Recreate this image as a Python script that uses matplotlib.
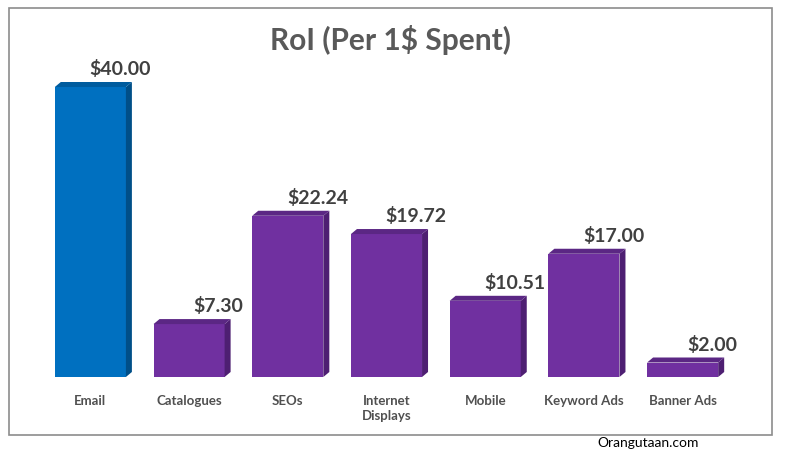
import matplotlib
matplotlib.use("Agg")
import matplotlib.pyplot as plt
from matplotlib.patches import Polygon, Rectangle

plt.rcParams['font.family'] = ['Lato', 'DejaVu Sans']

categories = ["Email", "Catalogues", "SEOs", "Internet\nDisplays", "Mobile", "Keyword Ads", "Banner Ads"]
values = [40.00, 7.30, 22.24, 19.72, 10.51, 17.00, 2.00]
labels = ["$40.00", "$7.30", "$22.24", "$19.72", "$10.51", "$17.00", "$2.00"]
title = "RoI (Per 1$ Spent)"
watermark = "Orangutaan.com"

front = {"blue": "#0070C0", "purple": "#7030A0"}
side = {"blue": "#004F88", "purple": "#4E1F72"}
top = {"blue": "#005C9E", "purple": "#5B2784"}
kinds = ["blue"] + ["purple"] * 6

W, H = 785, 456
fig = plt.figure(figsize=(W / 100, H / 100), dpi=100)
fig.patch.set_facecolor("white")
ax = fig.add_axes([41 / W, 78 / H, 691 / W, 318 / H])
ax.set_xlim(-0.5, 6.5)
ax.set_ylim(0, 318 / 7.25)
ax.axis("off")

bw = 0.72
dx = 6 / 98.7
dy = 5 / 7.25
xs = list(range(len(values)))
ax.bar(xs, values, width=bw, color=[front[k] for k in kinds], zorder=2)
for x, v, k, lab in zip(xs, values, kinds, labels):
    xl, xr = x - bw / 2, x + bw / 2
    ax.add_patch(Polygon([(xr, 0), (xr + dx, dy), (xr + dx, v + dy), (xr, v)],
                         closed=True, facecolor=side[k], edgecolor="none", zorder=2))
    ax.add_patch(Polygon([(xl, v), (xl + dx, v + dy), (xr + dx, v + dy), (xr, v)],
                         closed=True, facecolor=top[k], edgecolor="none", zorder=2))
    ax.annotate(lab, (x + 0.3, v + dy), xytext=(0, 3.5), textcoords="offset points",
                ha="center", va="bottom", fontsize=14, fontweight="bold", color="#404040")
    ax.annotate(categories[x], (x, 0), xytext=(0, -12), textcoords="offset points",
                ha="center", va="top", fontsize=9.5, fontweight="bold", color="#505050",
                linespacing=1.3)

fig.text(390 / W, 1 - 40 / H, title, ha="center", va="center", fontsize=21.5,
         fontweight="bold", color="#595959")
fig.patches.append(Rectangle((9 / W, 1 - 436 / H), 763 / W, 427 / H, transform=fig.transFigure,
                             fill=False, edgecolor="#8C8C8C", linewidth=1.2))
fig.text(648 / W, 1 - 443 / H, watermark, ha="center", va="center", fontsize=10, color="#000000")

fig.savefig("out.png", dpi=100)
